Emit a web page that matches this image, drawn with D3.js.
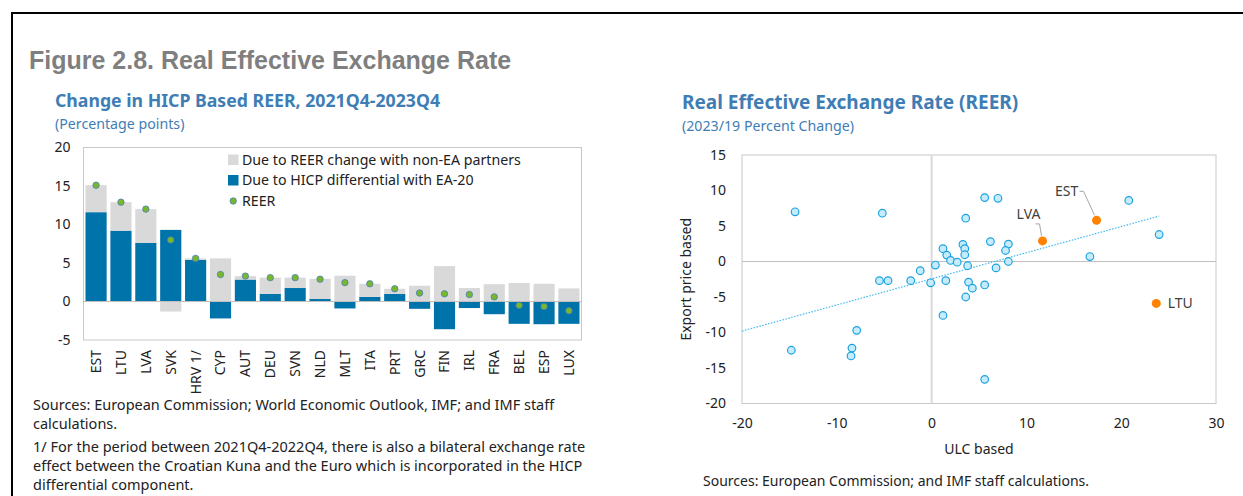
<!DOCTYPE html>
<html>
<head>
<meta charset="utf-8">
<script src="https://cdn.jsdelivr.net/npm/d3@7"></script>
<style>
  body { margin: 0; background: #fff; }
  svg { display: block; }
  text { font-family: "Noto Sans", sans-serif; fill: #222; }
</style>
</head>
<body>
<div id="chart"></div>
<script>
// left panel: change in HICP based REER, 2021Q4-2023Q4
const countries = ["EST", "LTU", "LVA", "SVK", "HRV 1/", "CYP", "AUT", "DEU", "SVN", "NLD",
  "MLT", "ITA", "PRT", "GRC", "FIN", "IRL", "FRA", "BEL", "ESP", "LUX"]
const hicpDiff = [11.6, 9.2, 7.6, 9.3, 5.4, -2.2, 2.85, 1.0, 1.75, 0.35,
  -0.9, 0.6, 1.0, -0.95, -3.6, -0.85, -1.65, -2.9, -2.95, -2.9]
const nonEaChange = [3.5, 3.7, 4.4, -1.3, 0.2, 5.6, 0.45, 2.1, 1.35, 2.6,
  3.35, 1.7, 0.65, 2.05, 4.6, 1.75, 2.25, 2.4, 2.3, 1.7]
const reer = [15.1, 12.9, 12.0, 8.0, 5.6, 3.5, 3.3, 3.1, 3.1, 2.9,
  2.45, 2.3, 1.65, 1.1, 1.0, 0.9, 0.6, -0.5, -0.65, -1.2]
const barTicks = [-5, 0, 5, 10, 15, 20]
const legendLabels = ["Due to REER change with non-EA partners", "Due to HICP differential with EA-20", "REER"]

// right panel: REER, 2023/19 percent change (x = ULC based, y = export price based)
const ulcBased = [-14.4, -5.2, -5.5, -4.6, -2.2, -1.2, -7.9, -14.8, -8.4, -8.5,
  5.6, 7.0, 3.6, 1.2, 1.6, 2.0, 2.7, 3.3, 3.5, 3.5,
  3.8, 0.4, -0.1, 1.5, 3.9, 4.3, 5.6, 3.6, 1.2, 6.2,
  8.1, 7.8, 8.1, 6.8, 20.8, 24.0, 16.7, 5.6]
const exportBased = [7.0, 6.8, -2.7, -2.7, -2.7, -1.3, -9.7, -12.5, -12.2, -13.3,
  9.0, 8.9, 6.1, 1.8, 0.9, 0.15, -0.1, 2.4, 1.8, 0.95,
  -0.6, -0.5, -3.0, -2.7, -2.9, -3.75, -3.3, -5.0, -7.6, 2.8,
  2.45, 1.55, 0.0, -0.9, 8.6, 3.8, 0.7, -16.6]
const baltics = ["EST", "LVA", "LTU"]
const balticUlc = [17.4, 11.7, 23.7]
const balticExport = [5.8, 2.9, -5.9]
const trendCoef = [0.368, -2.44]
const trendRange = [-20, 24]
const scatterXTicks = [-20, -10, 0, 10, 20, 30]
const scatterYTicks = [-20, -15, -10, -5, 0, 5, 10, 15]

const width = 1243
const height = 496
const blue = "#0073aa"
const grey = "#d9d9d9"
const titleBlue = "#3f7db5"

const svg = d3.select("#chart").append("svg")
  .attr("width", width)
  .attr("height", height)

svg.append("rect").attr("width", width).attr("height", height).attr("fill", "#fff")

svg.append("path")
  .attr("d", `M12,${height} V13 H${width}`)
  .attr("fill", "none")
  .attr("stroke", "#000")
  .attr("stroke-width", 2)

svg.append("text")
  .attr("x", 29).attr("y", 69)
  .style("font-family", "'Liberation Sans', Arial, sans-serif")
  .style("font-weight", "bold")
  .style("font-size", "25px")
  .style("fill", "#7f7f7f")
  .text("Figure 2.8. Real Effective Exchange Rate")

function titles(x, y, main, sub, size) {
  svg.append("text")
    .attr("x", x).attr("y", y)
    .style("font-weight", "bold")
    .style("font-size", `${size}px`)
    .style("fill", titleBlue)
    .text(main)
  svg.append("text")
    .attr("x", x).attr("y", y + 22)
    .style("font-size", "14.2px")
    .style("fill", titleBlue)
    .text(sub)
}

titles(55, 107, "Change in HICP Based REER, 2021Q4-2023Q4", "(Percentage points)", 17.7)
titles(682, 109, "Real Effective Exchange Rate (REER)", "(2023/19 Percent Change)", 19)

// ---- bar chart ----
const bar = {left: 83.5, right: 581.5, top: 147.5, bottom: 340}

const x = d3.scaleBand()
  .domain(countries)
  .range([bar.left, bar.right])
  .paddingInner(0.15)
  .paddingOuter(0.08)

const y = d3.scaleLinear()
  .domain(d3.extent(barTicks))
  .range([bar.bottom, bar.top])

const rows = countries.map((c, i) => ({country: c, hicp: hicpDiff[i], nonEa: nonEaChange[i], reer: reer[i]}))

const series = d3.stack()
  .keys(["hicp", "nonEa"])
  .offset(d3.stackOffsetDiverging)(rows)

const barG = svg.append("g")

barG.append("rect")
  .attr("x", bar.left).attr("y", bar.top)
  .attr("width", bar.right - bar.left).attr("height", bar.bottom - bar.top)
  .attr("fill", "none")
  .attr("stroke", "#c8c8c8")

barG.selectAll("g.series")
  .data(series)
  .join("g")
    .attr("class", "series")
    .attr("fill", d => d.key == "hicp" ? blue : grey)
  .selectAll("rect")
  .data(d => d)
  .join("rect")
    .attr("x", d => x(d.data.country))
    .attr("width", x.bandwidth())
    .attr("y", d => y(Math.max(d[0], d[1])))
    .attr("height", d => Math.abs(y(d[0]) - y(d[1])))

barG.append("line")
  .attr("x1", bar.left).attr("x2", bar.right)
  .attr("y1", y(0)).attr("y2", y(0))
  .attr("stroke", "#bfbfbf")

barG.selectAll("circle.reer")
  .data(rows)
  .join("circle")
    .attr("class", "reer")
    .attr("cx", d => x(d.country) + x.bandwidth() / 2)
    .attr("cy", d => y(d.reer))
    .attr("r", 3.2)
    .attr("fill", "#78b82a")
    .attr("stroke", "#4a7ebb")
    .attr("stroke-width", 0.8)

const yAxis = barG.append("g")
  .attr("transform", `translate(${bar.left},0)`)
  .call(d3.axisLeft(y).tickValues(barTicks).tickFormat(String).tickSize(0).tickPadding(13))
yAxis.select(".domain").remove()
yAxis.selectAll("text").style("font-size", "14px").style("font-family", "'Noto Sans', sans-serif").attr("fill", "#222")

barG.selectAll("text.cat")
  .data(countries)
  .join("text")
    .attr("class", "cat")
    .attr("transform", d => `translate(${x(d) + x.bandwidth() / 2},${bar.bottom + 10}) rotate(-90)`)
    .attr("text-anchor", "end")
    .attr("dy", "0.35em")
    .style("font-size", "14px")
    .text(d => d)

const legend = barG.append("g")
  .attr("transform", "translate(228,160)")
legendLabels.forEach((label, i) => {
  const g = legend.append("g").attr("transform", `translate(0,${i * 20.5})`)
  if (i < 2) {
    g.append("rect").attr("x", 0).attr("y", -5.5).attr("width", 10.5).attr("height", 10.5)
      .attr("fill", i == 0 ? grey : blue)
  } else {
    g.append("circle").attr("cx", 5.2).attr("cy", 0).attr("r", 3.2)
      .attr("fill", "#78b82a").attr("stroke", "#4a7ebb").attr("stroke-width", 0.8)
  }
  g.append("text").attr("x", 14).attr("dy", "0.35em").style("font-size", "14.2px").text(label)
})

const notes = [
  "Sources: European Commission; World Economic Outlook, IMF; and IMF staff",
  "calculations.",
  "1/ For the period between 2021Q4-2022Q4, there is also a bilateral exchange rate",
  "effect between the Croatian Kuna and the Euro which is incorporated in the HICP",
  "differential component."
]
const noteY = [405, 424, 447, 466, 485]
svg.selectAll("text.note")
  .data(notes)
  .join("text")
    .attr("class", "note")
    .attr("x", 33)
    .attr("y", (d, i) => noteY[i])
    .attr("dy", "0.35em")
    .style("font-size", "14.5px")
    .text(d => d)

// ---- scatter ----
const sc = {left: 742, right: 1216, top: 155, bottom: 403.5}

const sx = d3.scaleLinear()
  .domain(d3.extent(scatterXTicks))
  .range([sc.left, sc.right])
const sy = d3.scaleLinear()
  .domain(d3.extent(scatterYTicks))
  .range([sc.bottom, sc.top])

const scG = svg.append("g")

scG.append("rect")
  .attr("x", sc.left).attr("y", sc.top)
  .attr("width", sc.right - sc.left).attr("height", sc.bottom - sc.top)
  .attr("fill", "none")
  .attr("stroke", "#c8c8c8")

scG.append("line")
  .attr("x1", sx(0)).attr("x2", sx(0))
  .attr("y1", sc.top).attr("y2", sc.bottom)
  .attr("stroke", "#d9d9d9")
  .attr("stroke-width", 2)
scG.append("line")
  .attr("x1", sc.left).attr("x2", sc.right)
  .attr("y1", sy(0)).attr("y2", sy(0))
  .attr("stroke", "#bfbfbf")

const sxAxis = scG.append("g")
  .attr("transform", `translate(0,${sc.bottom})`)
  .call(d3.axisBottom(sx).tickValues(scatterXTicks).tickFormat(String).tickSize(0).tickPadding(15))
sxAxis.select(".domain").remove()
const syAxis = scG.append("g")
  .attr("transform", `translate(${sc.left},0)`)
  .call(d3.axisLeft(sy).tickValues(scatterYTicks).tickFormat(String).tickSize(0).tickPadding(16))
syAxis.select(".domain").remove()
scG.selectAll(".tick text").style("font-size", "14px").style("font-family", "'Noto Sans', sans-serif").attr("fill", "#222")

scG.append("text")
  .attr("x", (sc.left + sc.right) / 2)
  .attr("y", 449)
  .attr("dy", "0.35em")
  .attr("text-anchor", "middle")
  .style("font-size", "14px")
  .text("ULC based")

scG.append("text")
  .attr("transform", `translate(686,${(sc.top + sc.bottom) / 2}) rotate(-90)`)
  .attr("text-anchor", "middle")
  .attr("dy", "0.35em")
  .style("font-size", "14px")
  .text("Export price based")

const trendLine = d3.line()
  .x(d => sx(d))
  .y(d => sy(trendCoef[0] * d + trendCoef[1]))
scG.append("path")
  .attr("d", trendLine(trendRange))
  .attr("fill", "none")
  .attr("stroke", "#3fb9ec")
  .attr("stroke-width", 1.2)
  .attr("stroke-dasharray", "1.5,1.5")

scG.selectAll("circle.pt")
  .data(ulcBased.map((v, i) => [v, exportBased[i]]))
  .join("circle")
    .attr("class", "pt")
    .attr("cx", d => sx(d[0]))
    .attr("cy", d => sy(d[1]))
    .attr("r", 3.8)
    .attr("fill", "#c6ecfb")
    .attr("stroke", "#1ca3df")
    .attr("stroke-width", 1.2)

// label placement for the highlighted countries (pixel offsets from the point)
const labelOffsets = {EST: [-30, -29], LVA: [-14, -27], LTU: [24, 0]}
const leaderLines = {EST: [[-13, -29], [-2, -5]], LVA: [[-3, -17], [-1, -5]], LTU: null}

const baltG = scG.selectAll("g.baltic")
  .data(baltics.map((c, i) => ({country: c, x: balticUlc[i], y: balticExport[i]})))
  .join("g")
    .attr("class", "baltic")
    .attr("transform", d => `translate(${sx(d.x)},${sy(d.y)})`)

baltG.filter(d => leaderLines[d.country])
  .append("polyline")
    .attr("points", d => {
      const [a, b] = leaderLines[d.country]
      return [[a[0] - 4, a[1]], a, b].map(p => p.join(",")).join(" ")
    })
    .attr("fill", "none")
    .attr("stroke", "#a6a6a6")
    .attr("stroke-width", 1)

baltG.append("circle")
  .attr("r", 4.5)
  .attr("fill", "#ff8200")

baltG.append("text")
  .attr("x", d => labelOffsets[d.country][0])
  .attr("y", d => labelOffsets[d.country][1])
  .attr("text-anchor", "middle")
  .attr("dy", "0.35em")
  .style("font-size", "14px")
  .style("fill", "#404040")
  .text(d => d.country)

svg.append("text")
  .attr("x", 703).attr("y", 481)
  .attr("dy", "0.35em")
  .style("font-size", "14px")
  .text("Sources: European Commission; and IMF staff calculations.")
</script>
</body>
</html>
